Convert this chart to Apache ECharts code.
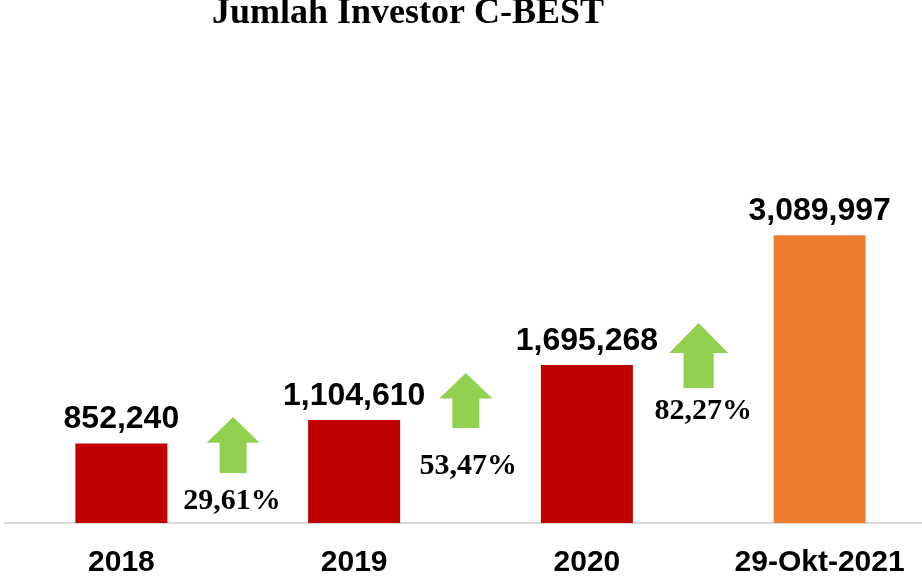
<!DOCTYPE html>
<html>
<head>
<meta charset="utf-8">
<script src="https://cdn.jsdelivr.net/npm/echarts@6/dist/echarts.min.js"></script>
<style>
  html, body { margin: 0; padding: 0; background: #fff; }
  #chart { width: 922px; height: 577px; }
</style>
</head>
<body>
<div id="chart"></div>
<script>
// categories and values
const years = ["2018", "2019", "2020", "29-Okt-2021"];
const investors = [852240, 1104610, 1695268, 3089997];
const barColors = ["#c00000", "#c00000", "#c00000", "#ed7d31"];

// growth arrows between bars
const growthLabels = ["29,61%", "53,47%", "82,27%"];
const arrowX = [0.98, 1.98, 2.98];
const arrowY = [837000, 1314000, 1797000];
const arrowSize = [[53, 56], [53, 55], [59, 65]];
const labelX = [0.975, 1.99, 3.0];
const labelY = [236000, 612000, 1202000];

const arrowPath = "path://M50 0 L100 46 L75.5 46 L75.5 100 L24.5 100 L24.5 46 L0 46 Z";

const chart = echarts.init(document.getElementById("chart"));
chart.setOption({
  animation: false,
  title: {
    text: "Jumlah Investor C-BEST",
    left: 207,
    top: -9,
    textStyle: {
      fontFamily: "Liberation Serif",
      fontWeight: "bold",
      fontSize: 36,
      color: "#000"
    }
  },
  grid: { left: 5, width: 931, top: 197, bottom: 54, outerBoundsMode: "none", containLabel: false },
  xAxis: [
    {
      type: "category",
      data: years,
      axisLine: { lineStyle: { color: "#d9d9d9", width: 2 } },
      axisTick: { show: false },
      axisLabel: {
        margin: 25,
        color: "#000",
        fontFamily: "Liberation Sans",
        fontWeight: "bold",
        fontSize: 30
      }
    },
    { type: "value", min: 0, max: 4, show: false }
  ],
  yAxis: {
    type: "value",
    min: 0,
    max: 3500000,
    show: false,
    splitLine: { show: false }
  },
  series: [
    {
      type: "bar",
      barWidth: 92,
      data: investors.map((v, i) => ({ value: v, itemStyle: { color: barColors[i] } })),
      label: {
        show: true,
        position: "top",
        distance: 8,
        color: "#000",
        fontFamily: "Liberation Sans",
        fontWeight: "bold",
        fontSize: 32,
        formatter: (p) => p.value.toLocaleString("en-US")
      }
    },
    {
      type: "scatter",
      xAxisIndex: 1,
      symbol: arrowPath,
      data: arrowX.map((x, i) => ({ value: [x, arrowY[i]], symbolSize: arrowSize[i] })),
      itemStyle: { color: "#92d050", opacity: 1 },
      z: 3
    },
    {
      type: "scatter",
      xAxisIndex: 1,
      symbolSize: 0,
      data: labelX.map((x, i) => [x, labelY[i]]),
      itemStyle: { opacity: 1 },
      label: {
        show: true,
        position: "inside",
        color: "#000",
        opacity: 1,
        fontFamily: "Liberation Serif",
        fontWeight: "bold",
        fontSize: 30,
        formatter: (p) => growthLabels[p.dataIndex]
      },
      z: 4
    }
  ]
});
</script>
</body>
</html>
